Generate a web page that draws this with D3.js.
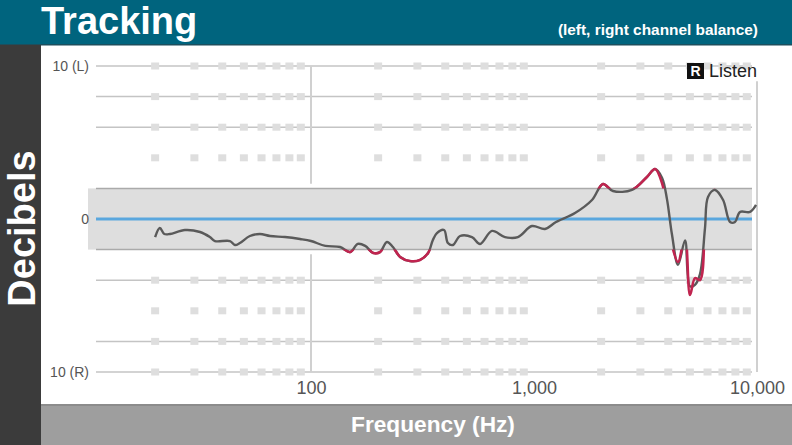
<!DOCTYPE html>
<html>
<head>
<meta charset="utf-8">
<script src="https://cdn.jsdelivr.net/npm/d3@7"></script>
<style>
  html, body { margin: 0; padding: 0; background: #fff; overflow: hidden; }
  text { font-family: "Liberation Sans", Arial, sans-serif; }
</style>
</head>
<body>
<div id="container"></div>
<script>
/* DATA */
const freqHz = [20, 21, 22, 23.3, 27.2, 31.8, 35.2, 37.1, 43.3, 45.6, 48, 53.2, 59, 65.5, 76.4, 89.3, 100, 116, 135, 150, 162, 175, 190, 204, 219, 233, 251, 278, 308, 335, 352, 367, 395, 411, 433, 466, 527, 573, 648, 741, 847, 979, 1120, 1255, 1527, 1820, 2039, 2260, 2750, 3211, 3490, 3750, 3947, 4155, 4424, 4757, 5008, 5272, 5551, 5845, 6030, 6483, 7047, 7574, 7967, 8391, 9304, 9900];
const rightDb = [-1.18, -0.59, -0.98, -0.98, -0.72, -0.85, -1.18, -1.44, -1.44, -1.7, -1.57, -1.11, -0.98, -1.11, -1.18, -1.31, -1.44, -1.76, -1.83, -2.16, -1.63, -1.76, -2.22, -2.16, -1.5, -1.83, -2.48, -2.75, -2.68, -2.22, -1.37, -0.92, -0.72, -1.57, -1.7, -1.11, -1.18, -1.63, -0.78, -1.18, -1.18, -0.46, -0.65, -0.2, 0.39, 1.24, 2.29, 1.83, 1.9, 2.75, 3.27, 2.35, 0.59, -1.7, -2.81, -1.05, -4.97, -3.86, -3.99, -0.26, 1.44, 1.9, 1.24, -0.2, -0.2, 0.46, 0.46, 0.92];
const leftDb = [-1.18, -0.59, -0.98, -0.98, -0.72, -0.85, -1.18, -1.44, -1.44, -1.7, -1.57, -1.11, -0.98, -1.11, -1.18, -1.31, -1.44, -1.76, -1.83, -2.16, -1.63, -1.76, -2.22, -2.16, -1.5, -1.83, -2.48, -2.75, -2.68, -2.22, -1.37, -0.92, -0.72, -1.57, -1.7, -1.11, -1.18, -1.63, -0.78, -1.18, -1.18, -0.46, -0.65, -0.2, 0.39, 1.24, 2.29, 1.83, 1.9, 2.75, 3.27, 2.7, 1.3, -1, -3, -1.4, -4.4, -4.3, -3.6, -0.6, 1.44, 1.9, 1.24, -0.2, -0.2, 0.46, 0.46, 0.92];
const xTicks = [100, 1000, 10000];
const xTickLabels = ["100", "1,000", "10,000"];
const yTicks = [10, 0, -10];
const yTickLabels = ["10 (L)", "0", "10 (R)"];
const gridDb = [10, 8, 6, 2, -2, -4, -8, -10];
const dashDb = [10, 8, 6, 4, -4, -6, -8, -10];
const minorFreq = [20, 30, 40, 50, 60, 70, 80, 90, 200, 300, 400, 500, 600, 700, 800, 900, 2000, 3000, 4000, 5000, 6000, 7000, 8000, 9000];

/* CONSTANTS AND GLOBALS */
const width = 792;
const height = 445;

const svg = d3.select("#container")
  .append("svg")
  .attr("width", width)
  .attr("height", height)
  .style("display", "block");

/* SCALES */
const xScale = d3.scaleLog().domain([10, 10000]).range([88, 757]);
const yScale = d3.scaleLinear().domain([10, -10]).range([66, 372]);

/* PANELS */
svg.append("rect").attr("x", 0).attr("y", 0).attr("width", width).attr("height", 44).attr("fill", "#00647e");
svg.append("rect").attr("x", 0).attr("y", 44).attr("width", width).attr("height", 1.5).attr("fill", "#1d4f5e");
svg.append("rect").attr("x", 0).attr("y", 45).attr("width", 41).attr("height", 400).attr("fill", "#3b3b3b");
svg.append("rect").attr("x", 41).attr("y", 405).attr("width", 751).attr("height", 40).attr("fill", "#9e9e9e");
svg.append("rect").attr("x", 41).attr("y", 404).attr("width", 751).attr("height", 2).attr("fill", "#8c8c8c");

/* tolerance band */
svg.append("rect")
  .attr("x", xScale(10))
  .attr("y", yScale(2))
  .attr("width", 664)
  .attr("height", yScale(-2) - yScale(2))
  .attr("fill", "#dedede");

/* GRID */
svg.selectAll(".grid")
  .data(gridDb)
  .join("line")
  .attr("x1", 96)
  .attr("x2", 752)
  .attr("y1", d => yScale(d))
  .attr("y2", d => yScale(d))
  .attr("stroke", d => Math.abs(d) == 2 ? "#aaaaaa" : "#c4c4c4")
  .attr("stroke-width", 1.5);

dashDb.forEach(level => {
  svg.selectAll(".dash" + level)
    .data(minorFreq)
    .join("rect")
    .attr("x", d => xScale(d) - 4)
    .attr("y", yScale(level) - 3.5)
    .attr("width", 8)
    .attr("height", 7)
    .attr("fill", "#dedede");
});

/* major verticals, the 100 Hz one is broken around the band */
[[10, 2.3], [-2.3, -10]].forEach(seg => {
  svg.append("line")
    .attr("x1", xScale(100))
    .attr("x2", xScale(100))
    .attr("y1", yScale(seg[0]))
    .attr("y2", yScale(seg[1]))
    .attr("stroke", "#d0d0d0")
    .attr("stroke-width", 2);
});
svg.append("line")
  .attr("x1", xScale(10000))
  .attr("x2", xScale(10000))
  .attr("y1", yScale(9))
  .attr("y2", yScale(-10))
  .attr("stroke", "#d0d0d0")
  .attr("stroke-width", 2);

/* zero line */
svg.append("line")
  .attr("x1", 96)
  .attr("x2", 752)
  .attr("y1", yScale(0))
  .attr("y2", yScale(0))
  .attr("stroke", "#5aa7de")
  .attr("stroke-width", 3);

/* AXES */
const xAxis = d3.axisBottom(xScale)
  .tickValues(xTicks)
  .tickFormat((d, i) => xTickLabels[i])
  .tickSize(0)
  .tickPadding(0);
const xAxisG = svg.append("g")
  .attr("transform", "translate(0, 381)")
  .call(xAxis);
xAxisG.select(".domain").remove();
xAxisG.selectAll("text")
  .attr("font-size", 18)
  .attr("fill", "#555")
  .style("font-family", '"Liberation Sans", Arial, sans-serif');

const yAxis = d3.axisLeft(yScale)
  .tickValues(yTicks)
  .tickFormat((d, i) => yTickLabels[i])
  .tickSize(0)
  .tickPadding(0);
const yAxisG = svg.append("g")
  .attr("transform", "translate(89, 0)")
  .call(yAxis);
yAxisG.select(".domain").remove();
yAxisG.selectAll("text")
  .attr("font-size", 14)
  .attr("fill", "#555")
  .style("font-family", '"Liberation Sans", Arial, sans-serif');

/* CURVES */
const bandClip = svg.append("clipPath").attr("id", "outside");
bandClip.append("rect").attr("x", 0).attr("y", 0).attr("width", width).attr("height", yScale(2));
bandClip.append("rect").attr("x", 0).attr("y", yScale(-2)).attr("width", width).attr("height", height - yScale(-2));

const line = d3.line()
  .x((d, i) => xScale(freqHz[i]))
  .y(d => yScale(d))
  .curve(d3.curveCatmullRom.alpha(0.5));

svg.append("path")
  .attr("d", line(leftDb))
  .attr("fill", "none")
  .attr("stroke", "#5a5a5a")
  .attr("stroke-width", 2.4);

svg.append("path")
  .attr("d", line(rightDb))
  .attr("clip-path", "url(#outside)")
  .attr("fill", "none")
  .attr("stroke", "#c0244f")
  .attr("stroke-width", 2.6);

/* LOGO */
svg.append("rect").attr("x", 687).attr("y", 63).attr("width", 17).attr("height", 16).attr("fill", "#111");
svg.append("text").attr("x", 695.5).attr("y", 76).attr("text-anchor", "middle")
  .attr("font-size", 14).attr("font-weight", "bold").attr("fill", "#fff").text("R");
svg.append("text").attr("x", 757).attr("y", 77).attr("text-anchor", "end")
  .attr("font-size", 18).attr("fill", "#222").text("Listen");

/* TITLES */
svg.append("text").attr("x", 41).attr("y", 34)
  .attr("font-size", 38).attr("font-weight", "bold").attr("fill", "#fff").text("Tracking");
svg.append("text").attr("x", 758).attr("y", 35).attr("text-anchor", "end")
  .attr("font-size", 15.4).attr("font-weight", "bold").attr("fill", "#fff").text("(left, right channel balance)");
svg.append("text")
  .attr("transform", "translate(35, 228.5) rotate(-90)")
  .attr("text-anchor", "middle")
  .attr("font-size", 38).attr("font-weight", "bold").attr("fill", "#fff").text("Decibels");
svg.append("text").attr("x", 433).attr("y", 432).attr("text-anchor", "middle")
  .attr("font-size", 22.7).attr("font-weight", "bold").attr("fill", "#fff").text("Frequency (Hz)");
</script>
</body>
</html>
